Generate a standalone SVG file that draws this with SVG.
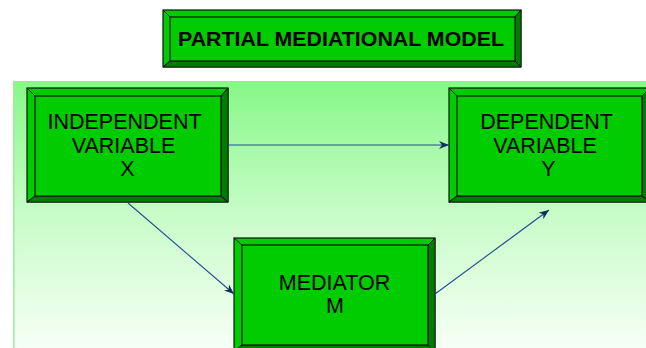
<svg xmlns="http://www.w3.org/2000/svg" width="646" height="348" viewBox="0 0 646 348">
  <defs>
    <linearGradient id="bg" x1="0" y1="0" x2="0" y2="1">
      <stop offset="0" stop-color="#86F886"/>
      <stop offset="0.5" stop-color="#C8FCC8"/>
      <stop offset="1" stop-color="#F6FFF6"/>
    </linearGradient>
    <marker id="arr" viewBox="0 0 10 8" refX="10" refY="4" markerWidth="10" markerHeight="8" markerUnits="userSpaceOnUse" orient="auto">
      <path d="M0,0 L10,4 L0,8 L3,4 z" fill="#0D2D5E"/>
    </marker>
    <style>
      .face { fill: #00CC00; stroke: #111; stroke-width: 1.2; }
      .dark { fill: #007D00; stroke: #111; stroke-width: 0.8; }
      .edge { stroke: #111; stroke-width: 1; fill: none; }
      .lbl { font-family: "Liberation Sans", Arial, sans-serif; font-size: 21.5px; fill: #000; text-anchor: middle; }
      .title { font-family: "Liberation Sans", Arial, sans-serif; font-size: 20.5px; font-weight: bold; fill: #000; text-anchor: middle; }
      .conn { stroke: #1F4E8C; stroke-width: 1.1; fill: none; marker-end: url(#arr); }
    </style>
  </defs>

  <rect x="0" y="0" width="646" height="348" fill="#FFFFFF"/>
  <rect x="13" y="81" width="633" height="267" fill="url(#bg)"/>
  <line x1="13.8" y1="81" x2="13.8" y2="348" stroke="#9EEE9E" stroke-width="1.6"/>

  <g id="title">
    <rect class="face" x="163" y="10" width="358" height="57"/>
    <polygon class="dark" points="521,10 521,67 515,61 515,17"/>
    <polygon class="dark" points="163,67 521,67 515,61 170,61"/>
    <rect class="face" x="170" y="17" width="345" height="44"/>
    <path class="edge" d="M163,10 L170,17 M521,10 L515,17 M163,67 L170,61 M521,67 L515,61"/>
    <text class="title" x="341" y="46" textLength="326" lengthAdjust="spacingAndGlyphs">PARTIAL MEDIATIONAL MODEL</text>
  </g>

  <g id="independent">
    <rect class="face" x="27" y="88" width="201" height="114"/>
    <polygon class="dark" points="228,88 228,202 221,196 221,96"/>
    <polygon class="dark" points="27,202 228,202 221,196 35,196"/>
    <rect class="face" x="35" y="96" width="186" height="100"/>
    <path class="edge" d="M27,88 L35,96 M228,88 L221,96 M27,202 L35,196 M228,202 L221,196"/>
    <text class="lbl" x="124.5" y="129">INDEPENDENT</text>
    <text class="lbl" x="123.5" y="153">VARIABLE</text>
    <text class="lbl" x="127.5" y="176">X</text>
  </g>

  <g id="dependent">
    <rect class="face" x="449" y="88" width="201" height="114"/>
    <polygon class="dark" points="650,88 650,202 642,196 642,96"/>
    <polygon class="dark" points="449,202 650,202 642,196 457,196"/>
    <rect class="face" x="457" y="96" width="185" height="100"/>
    <path class="edge" d="M449,88 L457,96 M650,88 L642,96 M449,202 L457,196 M650,202 L642,196"/>
    <text class="lbl" x="546.5" y="129">DEPENDENT</text>
    <text class="lbl" x="545" y="153">VARIABLE</text>
    <text class="lbl" x="548.5" y="176">Y</text>
  </g>

  <g id="mediator">
    <rect class="face" x="234" y="238" width="201" height="114"/>
    <polygon class="dark" points="435,238 435,352 428,345 428,245"/>
    <polygon class="dark" points="234,352 435,352 428,345 242,345"/>
    <rect class="face" x="242" y="245" width="186" height="100"/>
    <path class="edge" d="M234,238 L242,245 M435,238 L428,245 M234,352 L242,345 M435,352 L428,345"/>
    <text class="lbl" x="334.5" y="290">MEDIATOR</text>
    <text class="lbl" x="335" y="313">M</text>
  </g>

  <g id="connectors">
    <line class="conn" x1="228" y1="145" x2="449" y2="145"/>
    <line class="conn" x1="128" y1="203" x2="234" y2="294"/>
    <line class="conn" x1="435" y1="294" x2="549" y2="210"/>
  </g>
</svg>
